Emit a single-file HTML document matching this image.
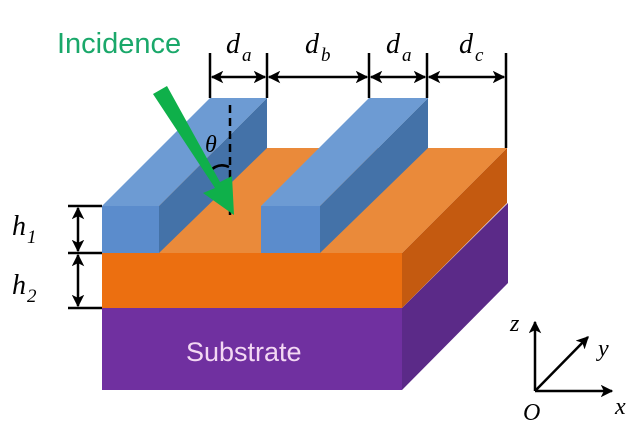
<!DOCTYPE html>
<html><head><meta charset="utf-8"><style>
html,body{margin:0;padding:0;background:#fff;}
svg{display:block;}
.it{font-family:"Liberation Serif",serif;font-style:italic;fill:#000;}
</style></head><body>
<svg width="640" height="441" viewBox="0 0 640 441" xmlns="http://www.w3.org/2000/svg">
<defs>
<marker id="ah" viewBox="0 0 10 10" refX="9" refY="5" markerWidth="5" markerHeight="5" orient="auto-start-reverse"><path d="M0,0 L10,5 L0,10 L2.5,5 z" fill="#000"/></marker>
</defs>
<polygon points="102,308 402,308 402,390 102,390" fill="#7030a0"/>
<polygon points="402,308 508,203 508,283 402,390" fill="#5b2a88"/>
<polygon points="102,253 402,253 402,308 102,308" fill="#ec6f10"/>
<polygon points="402,253 507,148 507,203 402,308" fill="#c45a10"/>
<polygon points="102,253 207,148 507,148 402,253" fill="#ea8a3a"/>
<polygon points="159,206 267,98 267,148 159,253" fill="#4472a8"/>
<polygon points="102,206 210,98 267,98 159,206" fill="#6d9bd3"/>
<polygon points="102,206 159,206 159,253 102,253" fill="#5b8ccc"/>
<polygon points="320,206 428,98 428,148 320,253" fill="#4472a8"/>
<polygon points="261,206 369,98 428,98 320,206" fill="#6d9bd3"/>
<polygon points="261,206 320,206 320,253 261,253" fill="#5b8ccc"/>
<g stroke="#000" stroke-width="2.5">
<line x1="210" y1="53" x2="210" y2="98"/><line x1="267" y1="53" x2="267" y2="98"/>
<line x1="369" y1="53" x2="369" y2="98"/><line x1="427" y1="53" x2="427" y2="98"/>
<line x1="506" y1="53" x2="506" y2="148"/>
<line x1="212" y1="77" x2="265" y2="77" marker-start="url(#ah)" marker-end="url(#ah)"/>
<line x1="269" y1="77" x2="367" y2="77" marker-start="url(#ah)" marker-end="url(#ah)"/>
<line x1="371" y1="77" x2="425" y2="77" marker-start="url(#ah)" marker-end="url(#ah)"/>
<line x1="429" y1="77" x2="504" y2="77" marker-start="url(#ah)" marker-end="url(#ah)"/>
<line x1="68" y1="206" x2="102" y2="206"/><line x1="68" y1="253" x2="102" y2="253"/><line x1="68" y1="308" x2="102" y2="308"/>
<line x1="78" y1="208" x2="78" y2="251" marker-start="url(#ah)" marker-end="url(#ah)"/>
<line x1="78" y1="255" x2="78" y2="306" marker-start="url(#ah)" marker-end="url(#ah)"/>
</g>
<text class="it" x="226" y="53" font-size="28">d</text><text class="it" x="242" y="61" font-size="19">a</text>
<text class="it" x="305" y="53" font-size="28">d</text><text class="it" x="321" y="61" font-size="19">b</text>
<text class="it" x="386" y="53" font-size="28">d</text><text class="it" x="402" y="61" font-size="19">a</text>
<text class="it" x="459" y="53" font-size="28">d</text><text class="it" x="475" y="61" font-size="19">c</text>
<text class="it" x="12" y="235" font-size="28">h</text><text class="it" x="27" y="243" font-size="19">1</text>
<text class="it" x="12" y="294" font-size="28">h</text><text class="it" x="27" y="302" font-size="19">2</text>
<line x1="230" y1="105" x2="230" y2="215" stroke="#000" stroke-width="2.5" stroke-dasharray="8,5"/>
<text class="it" x="205" y="152" font-size="24">θ</text>
<path d="M209,172 Q218,162 229,167" fill="none" stroke="#000" stroke-width="2.5"/>
<polygon points="153,94 167,86 220,182 232,176 234,215 203,193 215,188" fill="#0fb04a"/>
<text x="57" y="53" font-family="Liberation Sans,sans-serif" font-size="29" fill="#1aa86a">Incidence</text>
<text x="186" y="361" font-family="Liberation Sans,sans-serif" font-size="27" fill="#f3d8f3">Substrate</text>
<g stroke="#000" stroke-width="2.5">
<line x1="535" y1="391" x2="535" y2="322" marker-end="url(#ah)"/>
<line x1="535" y1="391" x2="612" y2="391" marker-end="url(#ah)"/>
<line x1="535" y1="391" x2="588" y2="337" marker-end="url(#ah)"/>
</g>
<text class="it" x="510" y="331" font-size="24">z</text>
<text class="it" x="598" y="356" font-size="24">y</text>
<text class="it" x="615" y="414" font-size="24">x</text>
<text class="it" x="523" y="420" font-size="24">O</text>
</svg>
</body></html>
